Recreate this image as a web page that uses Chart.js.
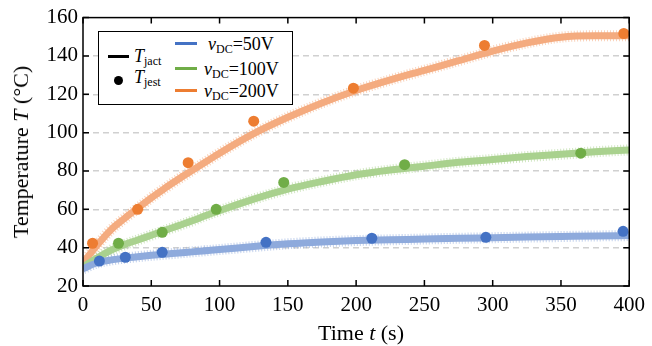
<!DOCTYPE html>
<html>
<head>
<meta charset="utf-8">
<script src="https://cdn.jsdelivr.net/npm/chart.js@4.4.1/dist/chart.umd.min.js"></script>
<style>
  body { margin: 0; background: #fff; }
  #wrap { position: relative; width: 652px; height: 346px; font-family: "Liberation Serif", "Times New Roman", serif; color: #000; }
  #chart { position: absolute; left: 0; top: 0; }
  .abs { position: absolute; white-space: nowrap; line-height: 1; }
  .ytitle { left: 21px; top: 152px; font-size: 22px; transform: translate(-50%, -50%) rotate(-90deg); }
  .xtitle { left: 361px; top: 333px; font-size: 22px; transform: translate(-50%, -50%); }
  .legend { left: 98px; top: 31px; width: 193px; height: 72px; border: 1.5px solid #000; background: #fff; }
  .lg { font-size: 18px; }
  .lg sub { font-size: 12px; vertical-align: -3px; }
  .swatch { position: absolute; height: 3px; width: 22px; }
  .dot { position: absolute; width: 9px; height: 9px; border-radius: 50%; background: #000; }
</style>
</head>
<body>
<div id="wrap">
  <canvas id="chart" width="652" height="346"></canvas>
  <div class="abs ytitle">Temperature <i>T</i> (°C)</div>
  <div class="abs xtitle">Time <i>t</i> (s)</div>
  <div class="abs legend"></div>
  <div class="swatch" style="left:108px;top:55px;background:#000;width:21px"></div>
  <div class="dot" style="left:114px;top:76px"></div>
  <div class="abs lg" style="left:134px;top:47px"><i>T</i><sub>jact</sub></div>
  <div class="abs lg" style="left:134px;top:68px"><i>T</i><sub>jest</sub></div>
  <div class="swatch" style="left:175px;top:42px;background:#4472c4"></div>
  <div class="swatch" style="left:175px;top:67px;background:#70ad47"></div>
  <div class="swatch" style="left:175px;top:89px;background:#ed7d31"></div>
  <div class="abs lg" style="left:208px;top:35px"><i>v</i><sub>DC</sub>=50V</div>
  <div class="abs lg" style="left:204px;top:60px"><i>v</i><sub>DC</sub>=100V</div>
  <div class="abs lg" style="left:204px;top:82px"><i>v</i><sub>DC</sub>=200V</div>
</div>
<script>
const tLine = [0, 10, 20, 30, 40, 50, 60, 70, 80, 90, 100, 125, 150, 175, 200, 225, 250, 275, 300, 325, 350, 375, 400];
const act50 = [29, 32, 33.5, 34.5, 35.3, 36, 36.6, 37.2, 37.8, 38.4, 39, 40.6, 42, 43, 43.7, 44.1, 44.5, 44.9, 45.2, 45.5, 45.8, 46.1, 46.3];
const act100 = [30, 34.5, 38.5, 41.5, 44, 46.5, 49, 51.5, 54, 56.8, 59.3, 65.3, 70.5, 74.5, 78, 80.5, 82.5, 84.5, 86, 87.5, 88.7, 90, 91];
const act200 = [32, 41, 49, 55, 60.5, 66, 71, 75.8, 80.3, 84.8, 89.3, 99.5, 108, 115.5, 122, 127.5, 132.5, 137.5, 142.5, 146.8, 149.8, 150.5, 150.5];

// estimated junction temperature
const est50T = [12, 31, 58, 134, 211.5, 295, 395.5];
const est50 = [33, 35, 37.6, 42.8, 44.9, 45.4, 48.5];
const est100T = [26, 58, 97.5, 147, 235.5, 364.5];
const est100 = [42.3, 48, 60, 74, 83.3, 89.3];
const est200T = [7, 40, 77, 125, 198, 294, 396];
const est200 = [42.3, 60, 84.3, 106, 123.2, 145.5, 151.7];

const xTicks = [0, 50, 100, 150, 200, 250, 300, 350, 400];
const yTicks = [20, 40, 60, 80, 100, 120, 140, 160];

const serif = '"Liberation Serif", "Times New Roman", serif';
const pts = (xs, ys) => xs.map((x, i) => ({ x: x, y: ys[i] }));

const lineSet = (ys, color) => ({
  type: 'line', data: pts(tLine, ys), borderColor: color, borderWidth: 7,
  pointRadius: 0, cubicInterpolationMode: 'monotone', order: 2
});
// fuzzy edge to mimic the noisy measurement
const fuzzSet = (ys, color) => ({
  type: 'line', data: pts(tLine, ys), borderColor: color, borderWidth: 11,
  borderDash: [1, 2], pointRadius: 0, cubicInterpolationMode: 'monotone', order: 3
});
const dotSet = (xs, ys, color) => ({
  type: 'scatter', data: pts(xs, ys), backgroundColor: color, borderWidth: 0,
  pointRadius: 5.5, order: 0
});

const frame = {
  id: 'frame',
  afterDraw(chart) {
    const { ctx, chartArea: a, scales } = chart;
    ctx.save();
    ctx.strokeStyle = '#000';
    ctx.lineWidth = 1.5;
    ctx.strokeRect(a.left, a.top, a.right - a.left, a.bottom - a.top);
    ctx.beginPath();
    xTicks.forEach(v => {
      const x = scales.x.getPixelForValue(v);
      ctx.moveTo(x, a.bottom); ctx.lineTo(x, a.bottom - 6);
      ctx.moveTo(x, a.top); ctx.lineTo(x, a.top + 6);
    });
    yTicks.forEach(v => {
      const y = scales.y.getPixelForValue(v);
      ctx.moveTo(a.left, y); ctx.lineTo(a.left + 6, y);
      ctx.moveTo(a.right, y); ctx.lineTo(a.right - 6, y);
    });
    ctx.stroke();
    ctx.restore();
  }
};

new Chart(document.getElementById('chart'), {
  data: {
    datasets: [
      dotSet(est50T, est50, '#4472c4'),
      dotSet(est100T, est100, '#70ad47'),
      dotSet(est200T, est200, '#ed7d31'),
      lineSet(act50, '#8eaadc'),
      lineSet(act100, '#a9d18e'),
      lineSet(act200, '#f4ab7f'),
      fuzzSet(act50, 'rgba(142,170,220,0.55)'),
      fuzzSet(act100, 'rgba(169,209,142,0.55)'),
      fuzzSet(act200, 'rgba(244,171,127,0.55)')
    ]
  },
  options: {
    responsive: false,
    animation: false,
    layout: { padding: { top: 16, right: 17, left: 0, bottom: 0 } },
    plugins: { legend: { display: false }, tooltip: { enabled: false } },
    scales: {
      x: {
        type: 'linear', min: 0, max: 400,
        afterFit: s => { s.height = 60; },
        afterBuildTicks: s => { s.ticks = xTicks.map(v => ({ value: v })); },
        grid: { display: false, drawTicks: false },
        border: { display: false },
        ticks: { color: '#000', padding: 7, maxRotation: 0, font: { family: serif, size: 21 } }
      },
      y: {
        min: 20, max: 160,
        afterFit: s => { s.width = 83; },
        afterBuildTicks: s => { s.ticks = yTicks.map(v => ({ value: v })); },
        grid: {
          drawTicks: false, lineWidth: 1.5,
          color: c => (c.tick.value === 20 || c.tick.value === 160) ? 'rgba(0,0,0,0)' : '#d0d0d0'
        },
        border: { display: false, dash: [6, 4] },
        ticks: { color: '#000', padding: 5, font: { family: serif, size: 21 } }
      }
    }
  },
  plugins: [frame]
});
</script>
</body>
</html>
